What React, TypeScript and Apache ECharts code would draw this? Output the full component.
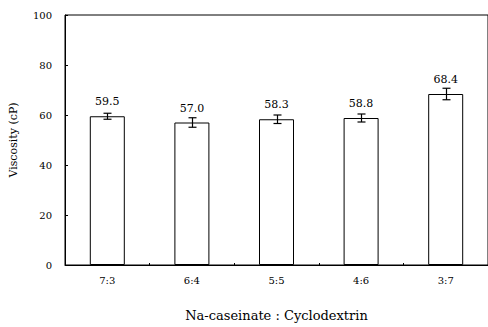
import React, { useEffect, useRef } from "react";
import * as echarts from "echarts";

const categories = ["7:3", "6:4", "5:5", "4:6", "3:7"];
const viscosity = [59.5, 57.0, 58.3, 58.8, 68.4];
const errors = [1.2, 1.9, 1.7, 1.6, 2.3];
const yTicks = { min: 0, max: 100, interval: 20 };

const FONT = "'DejaVu Serif', 'Liberation Serif', serif";

export default function App() {
  const ref = useRef<HTMLDivElement>(null);
  useEffect(() => {
    if (!ref.current) return;
    const chart = echarts.init(ref.current, null, { renderer: "svg" });
    const errData = viscosity.map((v, i) => [i, v - errors[i], v + errors[i]]);
    chart.setOption({
      animation: false,
      grid: {
        left: 63,
        right: 0,
        top: 15,
        bottom: 54,
        show: true,
        borderColor: "#000",
        borderWidth: 1,
        backgroundColor: "transparent",
      },
      xAxis: {
        type: "category",
        data: categories,
        name: "Na-caseinate : Cyclodextrin",
        nameLocation: "middle",
        nameGap: 44,
        nameTextStyle: { color: "#000", fontSize: 13, fontFamily: FONT },
        axisLine: { lineStyle: { color: "#000", width: 1 } },
        axisTick: { show: true, inside: true, length: 2, lineStyle: { color: "#000" } },
        axisLabel: { color: "#000", fontSize: 10, fontFamily: FONT, margin: 10 },
      },
      yAxis: {
        type: "value",
        min: yTicks.min,
        max: yTicks.max,
        interval: yTicks.interval,
        name: "Viscosity (cP)",
        nameLocation: "middle",
        nameGap: 46,
        nameTextStyle: { color: "#000", fontSize: 11, fontFamily: FONT },
        axisLine: { show: true, lineStyle: { color: "#000", width: 1 } },
        axisTick: { show: true, inside: true, length: 3, lineStyle: { color: "#000" } },
        axisLabel: { color: "#000", fontSize: 10, fontFamily: FONT, margin: 13 },
        splitLine: { show: false },
      },
      series: [
        {
          type: "bar",
          data: viscosity,
          barWidth: 35,
          itemStyle: { color: "#fff", borderColor: "#000", borderWidth: 1 },
          label: {
            show: true,
            position: "top",
            distance: 9,
            color: "#000",
            fontSize: 11,
            fontFamily: FONT,
            formatter: (p: any) => Number(p.value).toFixed(1),
          },
        },
        {
          type: "custom",
          data: errData,
          z: 10,
          renderItem: (params: any, api: any) => {
            const x = api.value(0);
            const lo = api.coord([x, api.value(1)]);
            const hi = api.coord([x, api.value(2)]);
            const cx = Math.round(lo[0]) + 0.5;
            const hw = 4;
            const style = { stroke: "#000", lineWidth: 1.2 };
            return {
              type: "group",
              children: [
                { type: "line", shape: { x1: cx, y1: hi[1], x2: cx, y2: lo[1] }, style },
                { type: "line", shape: { x1: cx - hw, y1: hi[1], x2: cx + hw, y2: hi[1] }, style },
                { type: "line", shape: { x1: cx - hw, y1: lo[1], x2: cx + hw, y2: lo[1] }, style },
              ],
            };
          },
        },
      ],
    });
    return () => chart.dispose();
  }, []);
  return <div ref={ref} style={{ width: 488, height: 327, position: "absolute", left: 0, top: 0, background: "#fff" }} />;
}
